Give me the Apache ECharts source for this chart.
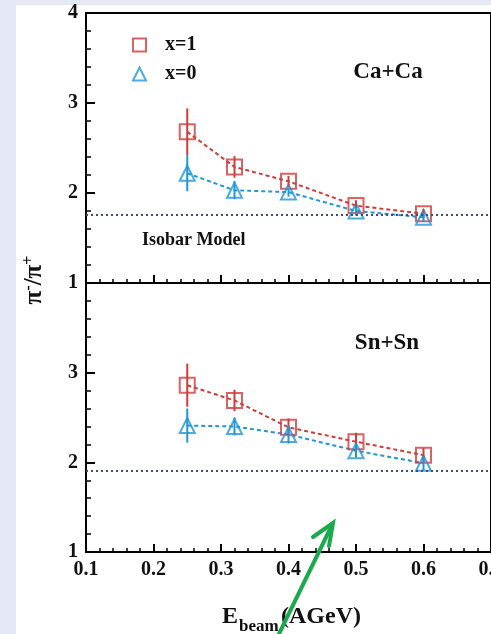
<!DOCTYPE html>
<html>
<head>
<meta charset="utf-8">
<script src="https://cdn.jsdelivr.net/npm/echarts@6/dist/echarts.min.js"></script>
<style>
  html, body { margin: 0; padding: 0; background: #e5e8f7; }
  #chart { width: 491px; height: 634px; }
</style>
</head>
<body>
<div id="chart"></div>
<script>
// Beam energies (AGeV)
const energies = [0.25, 0.32, 0.4, 0.5, 0.6];

// Ca+Ca pi-/pi+ ratios and uncertainties
const caX1 = [2.68, 2.29, 2.13, 1.86, 1.77];
const caX1Err = [0.26, 0.12, 0.06, 0.06, 0.05];
const caX0 = [2.22, 2.03, 2.01, 1.80, 1.73];
const caX0Err = [0.20, 0.10, 0.05, 0.05, 0.05];

// Sn+Sn pi-/pi+ ratios and uncertainties
const snX1 = [2.86, 2.69, 2.39, 2.23, 2.08];
const snX1Err = [0.24, 0.12, 0.10, 0.10, 0.08];
const snX0 = [2.41, 2.40, 2.31, 2.13, 1.99];
const snX0Err = [0.19, 0.10, 0.10, 0.08, 0.08];

// Isobar model reference levels
const isobarCa = 1.76;
const isobarSn = 1.91;

// Axis ranges
const xRange = [0.1, 0.7];
const yRange = [1, 4];

const RED = '#d23b3b';
const BLUE = '#1f96d6';
const SERIF = '"Liberation Serif", "Times New Roman", serif';

const pairs = (vals) => energies.map((e, i) => [e, vals[i]]);
const bars = (vals, errs) => energies.map((e, i) => [e, vals[i] - errs[i], vals[i] + errs[i]]);

function errorBarSeries(vals, errs, color, idx) {
  return {
    type: 'custom',
    xAxisIndex: idx, yAxisIndex: idx,
    silent: true,
    data: bars(vals, errs),
    encode: { x: 0, y: [1, 2] },
    z: 4,
    renderItem: function (params, api) {
      const x = api.value(0);
      const p1 = api.coord([x, api.value(1)]);
      const p2 = api.coord([x, api.value(2)]);
      return {
        type: 'line',
        shape: { x1: p1[0], y1: p1[1], x2: p2[0], y2: p2[1] },
        style: { stroke: color, lineWidth: 2 }
      };
    }
  };
}

function trendSeries(vals, color, idx) {
  return {
    type: 'line',
    name: 'trend',
    xAxisIndex: idx, yAxisIndex: idx,
    data: pairs(vals),
    symbol: 'none',
    silent: true,
    z: 2,
    lineStyle: { color: color, width: 2, type: [4, 3] }
  };
}

function markerSeries(name, vals, symbol, size, color, idx) {
  return {
    type: 'scatter',
    name: name,
    xAxisIndex: idx, yAxisIndex: idx,
    data: pairs(vals),
    symbol: symbol,
    symbolSize: size,
    z: 3,
    itemStyle: { color: 'rgba(0,0,0,0)', borderColor: color, borderWidth: 2 }
  };
}

function isobarSeries(level, idx) {
  return {
    type: 'line',
    name: 'isobar',
    xAxisIndex: idx, yAxisIndex: idx,
    data: [],
    silent: true,
    markLine: {
      silent: true,
      symbol: 'none',
      label: { show: false },
      lineStyle: { color: '#3f4a82', width: 2, type: [2, 3] },
      data: [{ yAxis: level }]
    }
  };
}

const labelFont = { fontFamily: SERIF, fontWeight: 'bold', fontSize: 20, color: '#111' };

function xAxisCfg(idx, showLabels) {
  return {
    type: 'value', gridIndex: idx,
    min: xRange[0], max: xRange[1], interval: 0.1,
    axisLine: { show: true, lineStyle: { color: '#000', width: 2 } },
    axisTick: { show: true, inside: true, length: 8, lineStyle: { color: '#000', width: 2 } },
    minorTick: { show: true, splitNumber: 5, length: 4, lineStyle: { color: '#000', width: 1.5 } },
    splitLine: { show: false },
    axisLabel: Object.assign({ show: showLabels, margin: 8,
      formatter: v => v.toFixed(1) }, labelFont)
  };
}

function yAxisCfg(idx, showMax) {
  return {
    type: 'value', gridIndex: idx,
    min: yRange[0], max: yRange[1], interval: 1,
    axisLine: { show: true, lineStyle: { color: '#000', width: 2 } },
    axisTick: { show: true, inside: true, length: 9, lineStyle: { color: '#000', width: 2 } },
    minorTick: { show: true, splitNumber: 5, length: 5, lineStyle: { color: '#000', width: 1.5 } },
    splitLine: { show: false },
    axisLabel: Object.assign({ margin: 8, showMaxLabel: showMax }, labelFont)
  };
}

const chart = echarts.init(document.getElementById('chart'), null, { renderer: 'canvas' });

chart.setOption({
  animation: false,
  backgroundColor: '#e5e8f7',
  grid: [
    { left: 86, top: 13, width: 405, height: 270, outerBoundsMode: 'none', containLabel: false,
      show: true, borderColor: '#000', borderWidth: 2, backgroundColor: '#fff' },
    { left: 86, top: 283, width: 405, height: 269, outerBoundsMode: 'none', containLabel: false,
      show: true, borderColor: '#000', borderWidth: 2, backgroundColor: '#fff' }
  ],
  xAxis: [xAxisCfg(0, false), xAxisCfg(1, true)],
  yAxis: [yAxisCfg(0, true), yAxisCfg(1, false)],
  legend: {
    orient: 'vertical',
    left: 127, top: 30,
    itemWidth: 13, itemHeight: 13,
    itemGap: 9,
    selectedMode: false,
    textStyle: { fontFamily: SERIF, fontWeight: 'bold', fontSize: 20, color: '#111', lineHeight: 20, padding: [0, 0, 0, 14] },
    data: [
      { name: 'x=1', icon: 'emptyRect', itemStyle: { color: RED } },
      { name: 'x=0', icon: 'emptyTriangle', itemStyle: { color: BLUE } }
    ]
  },
  graphic: [
    { type: 'rect', z: -10, silent: true, shape: { x: 16, y: 5, width: 480, height: 640 }, style: { fill: '#fff' } },
    { type: 'text', silent: true, x: 388, y: 72, style: { text: 'Ca+Ca', align: 'center', verticalAlign: 'middle', font: 'bold 23px ' + SERIF, fill: '#111' } },
    { type: 'text', silent: true, x: 387, y: 343, style: { text: 'Sn+Sn', align: 'center', verticalAlign: 'middle', font: 'bold 23px ' + SERIF, fill: '#111' } },
    { type: 'text', silent: true, x: 142, y: 240, style: { text: 'Isobar Model', align: 'left', verticalAlign: 'middle', font: 'bold 18px ' + SERIF, fill: '#111' } },
    // y-axis title
    { type: 'text', silent: true, x: 34, y: 280, rotation: Math.PI / 2,
      style: {
        text: '{m|π}{s|-}{m|/π}{s|+}', align: 'center', verticalAlign: 'middle',
        rich: {
          m: { fontFamily: SERIF, fontWeight: 'bold', fontSize: 25, fill: '#111', verticalAlign: 'bottom', lineHeight: 26 },
          s: { fontFamily: SERIF, fontWeight: 'bold', fontSize: 16, fill: '#111', verticalAlign: 'top', lineHeight: 16 }
        }
      } },
    // x-axis title
    { type: 'text', silent: true, x: 222, y: 617, style: { text: 'E', align: 'left', verticalAlign: 'middle', font: 'bold 24px ' + SERIF, fill: '#111' } },
    { type: 'text', silent: true, x: 239, y: 627, style: { text: 'beam', align: 'left', verticalAlign: 'middle', font: 'bold 17px ' + SERIF, fill: '#111' } },
    { type: 'text', silent: true, x: 281, y: 617, style: { text: '(AGeV)', align: 'left', verticalAlign: 'middle', font: 'bold 24px ' + SERIF, fill: '#111' } },
    // green pointer arrow
    { type: 'line', silent: true, z: 100, shape: { x1: 276, y1: 640, x2: 332, y2: 525 }, style: { stroke: '#19aa4b', lineWidth: 4, lineCap: 'round' } },
    { type: 'polyline', silent: true, z: 100, shape: { points: [[313, 537], [333, 523], [329, 546]] }, style: { stroke: '#19aa4b', lineWidth: 4, fill: null, lineJoin: 'miter', lineCap: 'round' } }
  ],
  series: [
    isobarSeries(isobarCa, 0),
    isobarSeries(isobarSn, 1),
    trendSeries(caX1, RED, 0),
    trendSeries(caX0, BLUE, 0),
    trendSeries(snX1, RED, 1),
    trendSeries(snX0, BLUE, 1),
    errorBarSeries(caX1, caX1Err, RED, 0),
    errorBarSeries(caX0, caX0Err, BLUE, 0),
    errorBarSeries(snX1, snX1Err, RED, 1),
    errorBarSeries(snX0, snX0Err, BLUE, 1),
    markerSeries('x=1', caX1, 'rect', 15, RED, 0),
    markerSeries('x=0', caX0, 'triangle', 15, BLUE, 0),
    markerSeries('x=1', snX1, 'rect', 15, RED, 1),
    markerSeries('x=0', snX0, 'triangle', 15, BLUE, 1)
  ]
});
</script>
</body>
</html>
